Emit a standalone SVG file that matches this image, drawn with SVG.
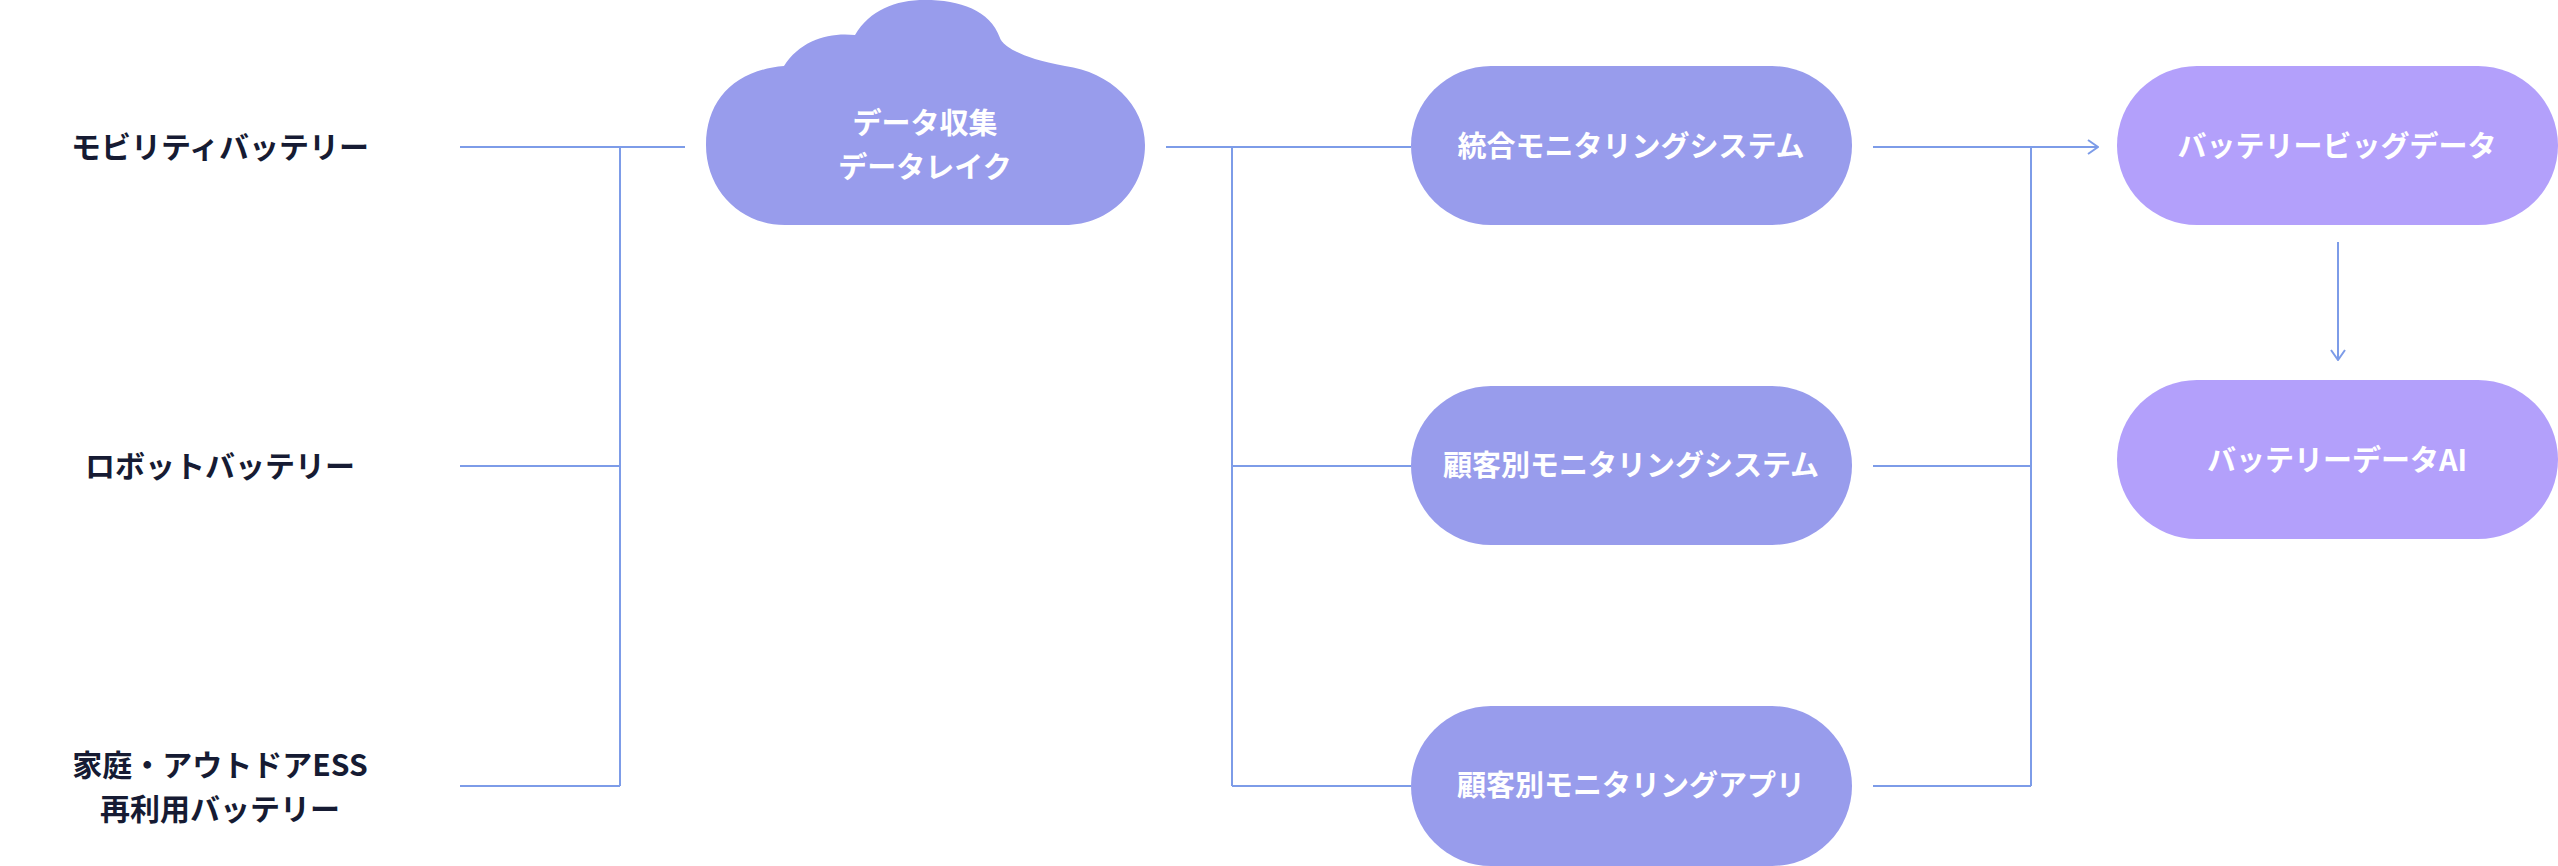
<svg xmlns="http://www.w3.org/2000/svg" width="2558" height="866" viewBox="0 0 2558 866">
<style>
.l{fill:#161b33;font:bold 30px "Noto Sans CJK JP",sans-serif;text-anchor:middle}
.w{fill:#fff;font:bold 29px "Noto Sans CJK JP",sans-serif;text-anchor:middle}
.c{stroke:#7d9ce8;stroke-width:2;fill:none}
.n1{fill:#989cec}.n2{fill:#b3a0fb}
</style>
<defs><marker id="a" viewBox="0 0 12 16" refX="11" refY="8" markerWidth="12" markerHeight="16" markerUnits="userSpaceOnUse" orient="auto"><path d="M1,1 L11,8 L1,15" fill="none" stroke="#7d9ce8" stroke-width="2"/></marker></defs>
<g id="connectors" class="c">
<path d="M460,147H685M460,466H620M460,786H620M620,147V786"/>
<path d="M1166,147H1411M1232,147V786M1232,466H1411M1232,786H1411"/>
<path d="M1873,147H2098" marker-end="url(#a)"/>
<path d="M1873,466H2031M1873,786H2031M2031,147V786"/>
<path d="M2338,242V360" marker-end="url(#a)"/>
</g>
<g id="src1"><text class="l" x="220" y="158">モビリティバッテリー</text></g>
<g id="src2"><text class="l" x="220" y="477">ロボットバッテリー</text></g>
<g id="src3"><text class="l" x="220" y="776">家庭・アウトドアESS</text><text class="l" x="220" y="820">再利用バッテリー</text></g>
<g id="cloud"><path class="n1" d="M785,225 C740,225 706,190 706,145 C706,100 735,70 784,66 C800,40 830,32 855,35 C870,10 895,0 925,0 C960,0 990,10 1000,38 C1000,38 1004,55 1065,66 C1110,72 1145,105 1145,145 C1145,190 1110,225 1065,225 Z"/><text class="w" x="925" y="134">データ収集</text><text class="w" x="925" y="178">データレイク</text></g>
<g id="m1"><rect class="n1" x="1411" y="66" width="441" height="159" rx="80"/><text class="w" x="1631" y="157">統合モニタリングシステム</text></g>
<g id="m2"><rect class="n1" x="1411" y="386" width="441" height="159" rx="80"/><text class="w" x="1631" y="476">顧客別モニタリングシステム</text></g>
<g id="m3"><rect class="n1" x="1411" y="706" width="441" height="160" rx="80"/><text class="w" x="1631" y="796">顧客別モニタリングアプリ</text></g>
<g id="bd"><rect class="n2" x="2117" y="66" width="441" height="159" rx="80"/><text class="w" x="2337" y="157">バッテリービッグデータ</text></g>
<g id="ai"><rect class="n2" x="2117" y="380" width="441" height="159" rx="80"/><text class="w" x="2337" y="471">バッテリーデータAI</text></g>
</svg>
